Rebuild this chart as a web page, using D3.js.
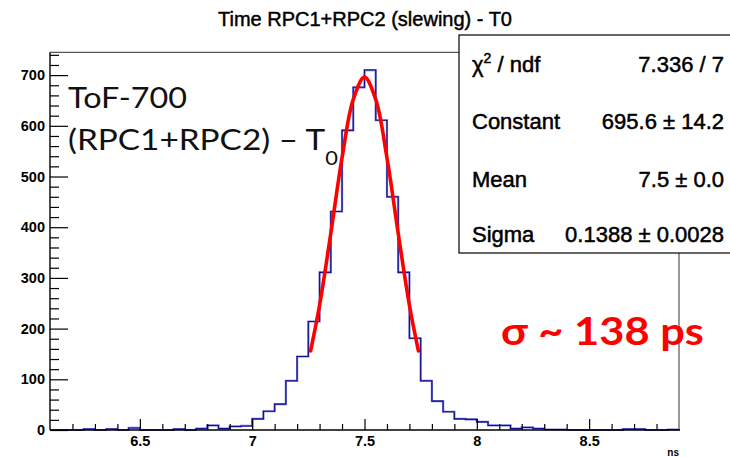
<!DOCTYPE html>
<html><head><meta charset="utf-8">
<script src="https://cdn.jsdelivr.net/npm/d3@7"></script>
<style>body{margin:0;background:#fff}svg{display:block}</style>
</head><body>
<svg id="c" width="730" height="457"></svg>
<script>
// ---- data ----
const binStart = 6.1, binWidth = 0.05;
const counts = [0,0,0,2,0,2,0,4,0,0,0,2,0,3,9,3,7,8,22,37,51,97,145,214,311,431,591,676,710,611,460,311,181,97,57,36,22,21,16,9,9,3,5,3,1,1,0,0,0,0,0,2,2,0,0,1];
const fitX = [7.26,7.30,7.35,7.40,7.45,7.50,7.55,7.60,7.65,7.70,7.74];
const fitY = [156,246,388,537,652,696,652,537,388,246,156];
const xTickVals = [6.5,7,7.5,8,8.5];
const xTickLabels = ["6.5","7","7.5","8","8.5"];
const yTickVals = [0,100,200,300,400,500,600,700];
const statNames = ["Constant","Mean","Sigma"];
const statValues = ["7.336 / 7","695.6 \u00b1 14.2","7.5 \u00b1 0.0","0.1388 \u00b1 0.0028"];
const title = "Time RPC1+RPC2 (slewing) - T0";

const svg = d3.select("#c");
const L=50,R=679,T=52.3,B=430;
const x = d3.scaleLinear().domain([6.1,8.9]).range([L,R]);
const y = d3.scaleLinear().domain([0,745]).range([B,T]);

// frame
svg.append("line").attr("x1",L).attr("x2",R).attr("y1",T).attr("y2",T).attr("stroke","#555").attr("stroke-width",1.2);
svg.append("line").attr("x1",R).attr("x2",R).attr("y1",T).attr("y2",B).attr("stroke","#555").attr("stroke-width",1.2);

// histogram
let p = d3.path();
p.moveTo(x(binStart), y(0));
counts.forEach((c,i)=>{
  const x0 = x(binStart+i*binWidth), x1 = x(binStart+(i+1)*binWidth);
  p.lineTo(x0, y(c)); p.lineTo(x1, y(c));
});
p.lineTo(x(binStart+counts.length*binWidth), y(0));
svg.append("path").attr("d",p.toString()).attr("fill","none").attr("stroke","#7a7ad6").attr("stroke-width",2.2);
svg.append("path").attr("d",p.toString()).attr("fill","none").attr("stroke","#10108f").attr("stroke-width",1.1);

// axes
const yAx = svg.append("g").attr("transform",`translate(${L},0)`)
  .call(d3.axisLeft(y).tickValues(yTickVals).tickSizeInner(-18).tickSizeOuter(0).tickPadding(5).tickFormat(d3.format("d")));
const yMinor = svg.append("g").attr("transform",`translate(${L},0)`)
  .call(d3.axisLeft(y).tickValues(d3.range(0,741,20).filter(v=>v%100)).tickSizeInner(-9).tickSizeOuter(0).tickFormat(""));
const xAx = svg.append("g").attr("transform",`translate(0,${B})`)
  .call(d3.axisBottom(x).tickValues(xTickVals).tickSizeInner(-11).tickSizeOuter(0).tickPadding(6).tickFormat((d,i)=>xTickLabels[i]));
const xMinor = svg.append("g").attr("transform",`translate(0,${B})`)
  .call(d3.axisBottom(x).tickValues(d3.range(6.2,8.85,0.1).filter(v=>Math.abs(v*2-Math.round(v*2))>0.01)).tickSizeInner(-6).tickSizeOuter(0).tickFormat(""));
[yAx,yMinor,xAx,xMinor].forEach(g=>{
  g.select(".domain").remove();
  g.selectAll("line").attr("stroke","#000").attr("stroke-width",1.2);
  g.selectAll("text").attr("font-family","'Liberation Sans',Arial,sans-serif").attr("font-weight","bold").attr("font-size",14.5).attr("fill","#000");
});
svg.append("line").attr("x1",L).attr("x2",L).attr("y1",T).attr("y2",B).attr("stroke","#000").attr("stroke-width",1.4);
svg.append("line").attr("x1",L).attr("x2",R+1).attr("y1",B).attr("y2",B).attr("stroke","#000").attr("stroke-width",1.4);

// axis title
svg.append("text").attr("x",R).attr("y",456).attr("text-anchor","end")
  .attr("font-family","'Liberation Sans',Arial,sans-serif").attr("font-weight","bold").attr("font-size",10).text("ns");

// fit curve
const line = d3.line().x((d,i)=>x(fitX[i])).y(d=>y(d)).curve(d3.curveCatmullRom);
svg.append("path").attr("d",line(fitY)).attr("fill","none").attr("stroke","#ff0000").attr("stroke-width",3.6).attr("stroke-linecap","round");

// title
svg.append("text").attr("x",365).attr("y",26).attr("text-anchor","middle")
  .attr("font-family","'Liberation Sans',Arial,sans-serif").attr("font-size",20)
  .attr("stroke","#000").attr("stroke-width",0.45).text(title);

// stats box
svg.append("rect").attr("x",459).attr("y",35).attr("width",290).attr("height",218).attr("fill","#fff").attr("stroke","#000").attr("stroke-width",1.2);
const rowsY = [72,129,187,242];
const sf = "'Liberation Sans',Arial,sans-serif";
const chi = svg.append("text").attr("x",472).attr("y",rowsY[0]).attr("font-family",sf).attr("font-size",22).attr("stroke","#000").attr("stroke-width",0.5);
chi.append("tspan").text("\u03c7");
chi.append("tspan").attr("font-size",14).attr("dy",-9).text("2");
chi.append("tspan").attr("dy",9).text(" / ndf");
statNames.forEach((n,i)=>{
  svg.append("text").attr("x",472).attr("y",rowsY[i+1]).attr("font-family",sf).attr("font-size",22).attr("stroke","#000").attr("stroke-width",0.5).text(n);
});
statValues.forEach((v,i)=>{
  svg.append("text").attr("x",724).attr("y",rowsY[i]).attr("text-anchor","end").attr("font-family",sf).attr("font-size",22).attr("stroke","#000").attr("stroke-width",0.5).text(v);
});

// overlay annotations
function fitWidth(sel, x0, w){
  const bb = sel.node().getBBox();
  const s = w/bb.width;
  sel.attr("transform",`translate(${x0},0) scale(${s},1) translate(${-bb.x},0)`);
}
const ov = "Lato,'Open Sans',sans-serif";
const t1 = svg.append("text").attr("x",0).attr("y",108).attr("font-family",ov).attr("font-size",29).attr("fill","#111").text("ToF-700");
fitWidth(t1,68,119);
const t2 = svg.append("text").attr("x",0).attr("y",150).attr("font-family",ov).attr("font-size",29).attr("fill","#111");
t2.append("tspan").text("(RPC1+RPC2) \u2013 T");
t2.append("tspan").attr("font-size",19).attr("dy",15).text("0");
fitWidth(t2,68,270);
const t3 = svg.append("text").attr("x",0).attr("y",345).attr("font-family",ov).attr("font-weight","bold").attr("font-size",39).attr("fill","#ff0000").text("\u03c3 ~ 138 ps");
fitWidth(t3,501,203);
</script>
</body></html>
